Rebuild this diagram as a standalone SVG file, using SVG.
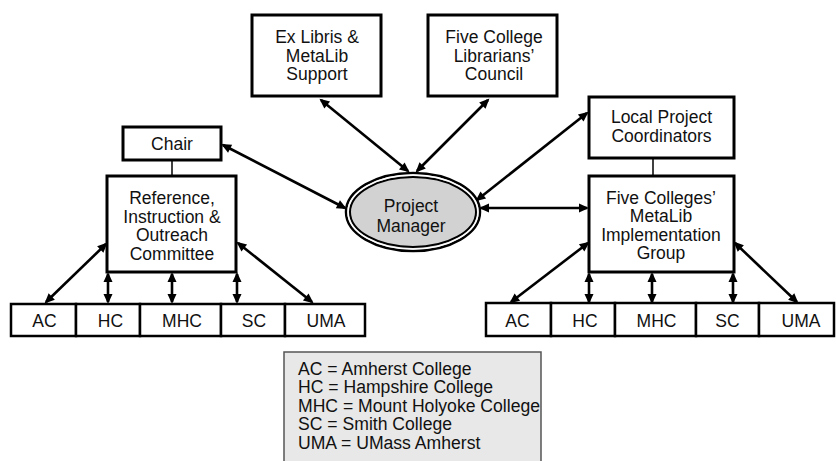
<svg xmlns="http://www.w3.org/2000/svg" width="836" height="461" viewBox="0 0 836 461">
<style>
  .box { fill: #ffffff; stroke: #000000; stroke-width: 3; }
  .cell { fill: #ffffff; stroke: #000000; stroke-width: 2.5; }
  .t { font-family: "Liberation Sans", Arial, Helvetica, sans-serif; font-size: 17.5px; fill: #111111; text-anchor: middle; }
  .lt { font-family: "Liberation Sans", Arial, Helvetica, sans-serif; font-size: 17.6px; fill: #111111; text-anchor: start; }
  .arr { stroke: #000000; stroke-width: 2.6; fill: none; marker-start: url(#ah); marker-end: url(#ah); }
  .plain { stroke: #000000; stroke-width: 1.5; fill: none; }
</style>
<defs>
  <marker id="ah" viewBox="0 0 10 10" refX="8" refY="5" markerWidth="11" markerHeight="10" markerUnits="userSpaceOnUse" orient="auto-start-reverse">
    <path d="M0,0.5 L10,5 L0,9.5 z" fill="#000000"/>
  </marker>
</defs>
<rect width="836" height="461" fill="#ffffff"/>

<g id="connectors">
  <line class="plain" x1="172" y1="160" x2="172" y2="176"/>
  <line class="plain" x1="653" y1="158" x2="653" y2="176"/>
  <line class="arr" x1="321" y1="100" x2="408" y2="171"/>
  <line class="arr" x1="488" y1="100" x2="417" y2="171"/>
  <line class="arr" x1="587" y1="113" x2="477" y2="200"/>
  <line class="arr" x1="481" y1="208" x2="587" y2="208"/>
  <line class="arr" x1="223" y1="145" x2="345" y2="208"/>
  <line class="arr" x1="106" y1="244" x2="46" y2="302"/>
  <line class="arr" x1="108" y1="274" x2="108" y2="302"/>
  <line class="arr" x1="172" y1="274" x2="172" y2="302"/>
  <line class="arr" x1="237" y1="274" x2="237" y2="302"/>
  <line class="arr" x1="238" y1="243" x2="312" y2="302"/>
  <line class="arr" x1="588" y1="243" x2="511" y2="302"/>
  <line class="arr" x1="589" y1="274" x2="589" y2="302"/>
  <line class="arr" x1="652" y1="274" x2="652" y2="302"/>
  <line class="arr" x1="733" y1="274" x2="733" y2="302"/>
  <line class="arr" x1="735" y1="243" x2="797" y2="302"/>
</g>

<g id="ex-libris">
  <rect class="box" x="252" y="15" width="129" height="81"/>
  <text class="t" x="317" y="43">Ex Libris &amp;</text>
  <text class="t" x="317" y="61.5">MetaLib</text>
  <text class="t" x="317" y="80">Support</text>
</g>

<g id="five-college-council">
  <rect class="box" x="428" y="15" width="129" height="81"/>
  <text class="t" x="494" y="43">Five College</text>
  <text class="t" x="494" y="61.5">Librarians’</text>
  <text class="t" x="494" y="80">Council</text>
</g>

<g id="local-coordinators">
  <rect class="box" x="589" y="97" width="145" height="61"/>
  <text class="t" x="661.5" y="123">Local Project</text>
  <text class="t" x="661.5" y="141.5">Coordinators</text>
</g>

<g id="chair">
  <rect class="box" x="123" y="127" width="98" height="33"/>
  <text class="t" x="172" y="150">Chair</text>
</g>

<g id="rio-committee">
  <rect class="box" x="107" y="176" width="129" height="96"/>
  <text class="t" x="172" y="203.5">Reference,</text>
  <text class="t" x="172" y="222.5">Instruction &amp;</text>
  <text class="t" x="172" y="241">Outreach</text>
  <text class="t" x="172" y="260">Committee</text>
</g>

<g id="implementation-group">
  <rect class="box" x="589" y="176" width="145" height="96"/>
  <text class="t" x="661" y="203.5">Five Colleges’</text>
  <text class="t" x="661" y="222">MetaLib</text>
  <text class="t" x="661" y="240.5">Implementation</text>
  <text class="t" x="661" y="259">Group</text>
</g>

<g id="project-manager">
  <ellipse cx="413" cy="212" rx="67" ry="39" fill="#d2d2d2" stroke="#000000" stroke-width="2.5"/>
  <ellipse cx="413" cy="212" rx="63" ry="35" fill="none" stroke="#000000" stroke-width="2"/>
  <ellipse cx="413" cy="212" rx="65" ry="37" fill="none" stroke="#ffffff" stroke-width="1.5"/>
  <text class="t" x="411" y="212">Project</text>
  <text class="t" x="411" y="232">Manager</text>
</g>

<g id="left-colleges">
  <rect class="cell" x="11" y="304" width="65" height="32"/>
  <rect class="cell" x="76" y="304" width="64" height="32"/>
  <rect class="cell" x="140" y="304" width="81" height="32"/>
  <rect class="cell" x="221" y="304" width="64" height="32"/>
  <rect class="cell" x="285" y="304" width="80" height="32"/>
  <text class="t" x="44.5" y="327">AC</text>
  <text class="t" x="110.5" y="327">HC</text>
  <text class="t" x="182" y="327">MHC</text>
  <text class="t" x="254" y="327">SC</text>
  <text class="t" x="326" y="327">UMA</text>
</g>

<g id="right-colleges">
  <rect class="cell" x="486" y="303" width="65" height="33"/>
  <rect class="cell" x="551" y="303" width="64" height="33"/>
  <rect class="cell" x="615" y="303" width="81" height="33"/>
  <rect class="cell" x="696" y="303" width="63" height="33"/>
  <rect class="cell" x="759" y="303" width="75" height="33"/>
  <text class="t" x="517.5" y="327">AC</text>
  <text class="t" x="585" y="327">HC</text>
  <text class="t" x="656.5" y="327">MHC</text>
  <text class="t" x="727.5" y="327">SC</text>
  <text class="t" x="801" y="327">UMA</text>
</g>

<g id="legend">
  <rect x="284" y="352" width="257" height="118" fill="#e8e8e8" stroke="#555555" stroke-width="1.5"/>
  <text class="lt" x="298" y="374.5">AC = Amherst College</text>
  <text class="lt" x="298" y="393">HC = Hampshire College</text>
  <text class="lt" x="298" y="411.5">MHC = Mount Holyoke College</text>
  <text class="lt" x="298" y="430">SC = Smith College</text>
  <text class="lt" x="298" y="449">UMA = UMass Amherst</text>
</g>
</svg>
